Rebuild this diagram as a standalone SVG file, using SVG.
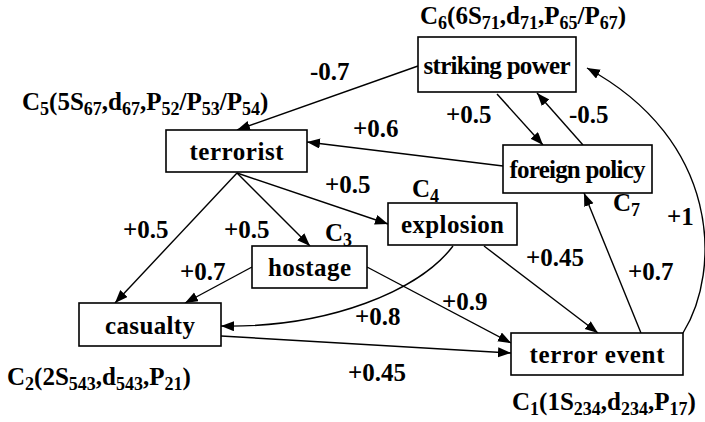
<svg xmlns="http://www.w3.org/2000/svg" width="705" height="422" viewBox="0 0 705 422">
  <defs>
    <marker id="arrow" markerUnits="userSpaceOnUse" markerWidth="14" markerHeight="12" refX="13" refY="5" orient="auto">
      <path d="M0,0 L13,5 L0,10 Z" fill="#000"/>
    </marker>
    <style>
      .node rect { fill: #fff; stroke: #000; stroke-width: 1.6; }
      .node text { text-anchor: middle; }
      .sub { font-size: 18px; }
      #edges path { fill: none; stroke: #000; stroke-width: 1.4; marker-end: url(#arrow); }
    </style>
  </defs>

  <rect width="705" height="422" fill="#fff"/>

  <!-- connectors -->
  <g id="edges">
    <path d="M418,66 L237,130"/>
    <path d="M503,166 L307,142"/>
    <path d="M497,94 L543,145"/>
    <path d="M583,145 L537,93"/>
    <path d="M683,333 C722,270 720,140 587,68"/>
    <path d="M641,333 L584,193"/>
    <path d="M237,173 L115,303"/>
    <path d="M237,173 L310,246"/>
    <path d="M237,173 L388,224"/>
    <path d="M252,267 L185,303"/>
    <path d="M367,267 L511,343"/>
    <path d="M453,246 C420,290 330,328 221,326"/>
    <path d="M484,246 L598,333"/>
    <path d="M221,336 L511,353"/>
  </g>

  <g font-family="'Liberation Serif', 'Times New Roman', Times, 'DejaVu Serif', serif" font-weight="bold" font-size="25" fill="#000">
    <!-- nodes -->
    <g id="striking-power" class="node">
      <rect x="418" y="37" width="158" height="55"/>
      <text x="497" y="73.5" textLength="147" lengthAdjust="spacing">striking power</text>
    </g>
    <g id="foreign-policy" class="node">
      <rect x="503" y="145" width="149" height="48"/>
      <text x="577.5" y="178" textLength="136" lengthAdjust="spacing">foreign policy</text>
    </g>
    <g id="terrorist" class="node">
      <rect x="166" y="130" width="141" height="42"/>
      <text x="236.5" y="160" textLength="94" lengthAdjust="spacing">terrorist</text>
    </g>
    <g id="explosion" class="node">
      <rect x="388" y="203" width="129" height="42"/>
      <text x="452.5" y="233" textLength="103" lengthAdjust="spacing">explosion</text>
    </g>
    <g id="hostage" class="node">
      <rect x="252" y="246" width="115" height="42"/>
      <text x="309.5" y="276" textLength="83" lengthAdjust="spacing">hostage</text>
    </g>
    <g id="casualty" class="node">
      <rect x="79" y="303" width="142" height="43"/>
      <text x="150" y="333.5" textLength="90" lengthAdjust="spacing">casualty</text>
    </g>
    <g id="terror-event" class="node">
      <rect x="511" y="333" width="172" height="42"/>
      <text x="597" y="363" textLength="135" lengthAdjust="spacing">terror event</text>
    </g>

    <!-- concept tags -->
    <text x="420" y="24">C<tspan class="sub" dy="5">6</tspan><tspan dy="-5">(6S</tspan><tspan class="sub" dy="5">71</tspan><tspan dy="-5">,d</tspan><tspan class="sub" dy="5">71</tspan><tspan dy="-5">,P</tspan><tspan class="sub" dy="5">65</tspan><tspan dy="-5">/P</tspan><tspan class="sub" dy="5">67</tspan><tspan dy="-5">)</tspan></text>
    <text x="22" y="110">C<tspan class="sub" dy="5">5</tspan><tspan dy="-5">(5S</tspan><tspan class="sub" dy="5">67</tspan><tspan dy="-5">,d</tspan><tspan class="sub" dy="5">67</tspan><tspan dy="-5">,P</tspan><tspan class="sub" dy="5">52</tspan><tspan dy="-5">/P</tspan><tspan class="sub" dy="5">53</tspan><tspan dy="-5">/P</tspan><tspan class="sub" dy="5">54</tspan><tspan dy="-5">)</tspan></text>
    <text x="412" y="197">C<tspan class="sub" dy="5">4</tspan></text>
    <text x="325" y="241">C<tspan class="sub" dy="5">3</tspan></text>
    <text x="613" y="211">C<tspan class="sub" dy="5">7</tspan></text>
    <text x="7" y="385">C<tspan class="sub" dy="5">2</tspan><tspan dy="-5">(2S</tspan><tspan class="sub" dy="5">543</tspan><tspan dy="-5">,d</tspan><tspan class="sub" dy="5">543</tspan><tspan dy="-5">,P</tspan><tspan class="sub" dy="5">21</tspan><tspan dy="-5">)</tspan></text>
    <text x="512" y="410">C<tspan class="sub" dy="5">1</tspan><tspan dy="-5">(1S</tspan><tspan class="sub" dy="5">234</tspan><tspan dy="-5">,d</tspan><tspan class="sub" dy="5">234</tspan><tspan dy="-5">,P</tspan><tspan class="sub" dy="5">17</tspan><tspan dy="-5">)</tspan></text>

    <!-- weights -->
    <text x="310" y="80">-0.7</text>
    <text x="353" y="137">+0.6</text>
    <text x="446" y="123">+0.5</text>
    <text x="569" y="123">-0.5</text>
    <text x="325" y="193">+0.5</text>
    <text x="123" y="238">+0.5</text>
    <text x="224" y="238">+0.5</text>
    <text x="180" y="280">+0.7</text>
    <text x="355" y="325">+0.8</text>
    <text x="442" y="310">+0.9</text>
    <text x="526" y="266">+0.45</text>
    <text x="628" y="280">+0.7</text>
    <text x="667" y="225">+1</text>
    <text x="348" y="381">+0.45</text>
  </g>
</svg>
